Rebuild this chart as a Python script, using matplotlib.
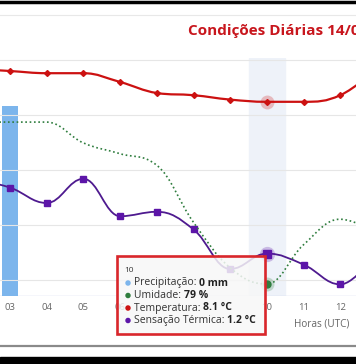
"""Condições Diárias — recriação do gráfico (Highcharts-like) em matplotlib"""

import matplotlib
matplotlib.use("Agg")
import matplotlib.pyplot as plt
import matplotlib.patches as mpatches
from matplotlib.path import Path

# dados (hora UTC)
horas = [2, 3, 4, 5, 6, 7, 8, 9, 10, 11, 12, 13]
rotulos = ["02", "03", "04", "05", "06", "07", "08", "09", "10", "11", "12", "13"]
precipitacao = [0.0, 0.6, 0.0, 0.0, 0.0, 0.0, 0.0, 0.0, 0.0, 0.0, 0.0, 0.0]
umidade = [100, 100, 100, 97.3, 95.9, 94.4, 87.0, 81.1, 79, 84.1, 87.4, 85.5]
temperatura = [9.6, 9.5, 9.4, 9.4, 9.0, 8.5, 8.4, 8.2, 8.1, 8.1, 8.4, 9.6]
sensacao = [4.6, 4.2, 3.5, 4.6, 2.9, 3.1, 2.3, 0.5, 1.2, 0.7, -0.2, 1.3]
hora_sel = 10
ocultos = ["07", "08", "09"]  # rótulos cobertos pelo tooltip no print

W, H = 356, 364
C_TEMP = "#cc1111"
C_SENS = "#4e1a8f"
C_SENS_MK = "#5c15a8"
C_UMID = "#2f7d3e"
C_PREC = "#7cb5ec"
C_GRID = "#e6e6e6"
C_TXT = "#666666"


def fx(px):
    return px / W


def fy(py):
    return 1 - py / H


def spline_path(xs, ys, smoothing=1.5):
    """Curva spline estilo Highcharts (controles bezier)."""
    denom = smoothing + 1
    n = len(xs)
    right = [None] * n
    verts = [(xs[0], ys[0])]
    codes = [Path.MOVETO]
    for i in range(1, n):
        x, y = xs[i], ys[i]
        lx, ly = xs[i - 1], ys[i - 1]
        lcx, lcy = x, y
        if i < n - 1:
            nx, ny = xs[i + 1], ys[i + 1]
            lcx = (smoothing * x + lx) / denom
            lcy = (smoothing * y + ly) / denom
            rcx = (smoothing * x + nx) / denom
            rcy = (smoothing * y + ny) / denom
            corr = 0
            if rcx != lcx:
                corr = (rcy - lcy) * (rcx - x) / (rcx - lcx) + y - rcy
            lcy += corr
            rcy += corr
            if lcy > ly and lcy > y:
                lcy = max(ly, y); rcy = 2 * y - lcy
            elif lcy < ly and lcy < y:
                lcy = min(ly, y); rcy = 2 * y - lcy
            if rcy > ny and rcy > y:
                rcy = max(ny, y); lcy = 2 * y - rcy
            elif rcy < ny and rcy < y:
                rcy = min(ny, y); lcy = 2 * y - rcy
            right[i] = (rcx, rcy)
        prev = right[i - 1] if right[i - 1] else (lx, ly)
        verts += [prev, (lcx, lcy), (x, y)]
        codes += [Path.CURVE4] * 3
    return Path(verts, codes)


fig = plt.figure(figsize=(W / 100, H / 100), dpi=100)
fig.patch.set_facecolor("white")

# área do gráfico: y de 58 a 296 px, recortada nas laterais
rect = [0, fy(296), 1, (296 - 58) / H]
ax = fig.add_axes(rect)          # precipitação + grade
ax_t = ax.twinx()                 # temperaturas
ax_h = ax.twinx()                 # umidade

x0, x10 = 10, 36.7
xlim = (3 - x0 / x10, 3 + (W - x0) / x10)
for a in (ax, ax_t, ax_h):
    a.set_xlim(*xlim)
    a.patch.set_visible(False)
    for s in a.spines.values():
        s.set_visible(False)
    a.tick_params(left=False, right=False, bottom=False,
                  labelleft=False, labelright=False, labelbottom=False)
ax.patch.set_visible(True)

# eixos: temp y_px = 280 - 22*T ; umidade y_px = 284 - 7.71*(U-79)
ax_t.set_ylim(-(296 - 280) / 22, (280 - 58) / 22)
ax_h.set_ylim(79 - (296 - 284) / 7.71, 79 + (284 - 58) / 7.71)
ax.set_ylim(0, max(precipitacao) * (296 - 58) / (296 - 106))

# grade horizontal (eixo temperatura)
for t in [0, 2.5, 5, 7.5, 10]:
    ax_t.axhline(t, color=C_GRID, lw=0.8, zorder=0)
ax.axhline(0, color="#ccd6eb", lw=1.0, zorder=1)

# faixa da hora selecionada
ax.axvspan(hora_sel - 0.48, hora_sel + 0.48, color="#eef2f9", zorder=0)

# precipitação
ax.bar(horas, precipitacao, width=0.46, color=C_PREC, zorder=2)

# umidade (pontilhada)
ax_h.add_patch(mpatches.PathPatch(spline_path(horas, umidade), fill=False,
                                  edgecolor=C_UMID, lw=1.2,
                                  linestyle=(0, (1, 1.6)), zorder=3))

# temperatura
ax_t.add_patch(mpatches.PathPatch(spline_path(horas, temperatura), fill=False,
                                  edgecolor=C_TEMP, lw=1.6, zorder=4))
ax_t.plot(horas, temperatura, "D", color=C_TEMP, ms=3.0, zorder=5)

# sensação térmica
ax_t.add_patch(mpatches.PathPatch(spline_path(horas, sensacao), fill=False,
                                  edgecolor=C_SENS, lw=1.3, zorder=4))
ax_t.plot(horas, sensacao, "s", color=C_SENS_MK, ms=4, zorder=5)

# destaque do ponto selecionado
i = horas.index(hora_sel)
ax_t.plot(hora_sel, temperatura[i], "o", color=C_TEMP, ms=10, alpha=0.25, mec="none", zorder=4)
ax_t.plot(hora_sel, sensacao[i], "o", color=C_SENS_MK, ms=11, alpha=0.25, mec="none", zorder=4)
ax_t.plot(hora_sel, sensacao[i], "s", color=C_SENS_MK, ms=6, zorder=6)
ax_h.plot(hora_sel, umidade[i], "o", color=C_UMID, ms=10, alpha=0.25, mec="none", zorder=4)
ax_h.plot(hora_sel, umidade[i], "o", color=C_UMID, ms=5, zorder=6)

# rótulos do eixo x
for h, r in zip(horas, rotulos):
    if 3 <= h <= 12 and r not in ocultos:
        xp = x0 + x10 * (h - 3)
        fig.text(fx(xp), fy(308), r, ha="center", va="center",
                 fontsize=6.8, color=C_TXT, family="Open Sans")
fig.text(fx(322), fy(324), "Horas (UTC)", ha="center", va="center",
         fontsize=7.2, color=C_TXT, family="Open Sans")

# título (cortado à direita como no print)
fig.text(fx(188), fy(31), "Condições Diárias 14/06", ha="left", va="center",
         fontsize=11, color="#c8161d", weight="bold", family="Open Sans")

# molduras do print
fig.add_artist(plt.Line2D([0, 1], [fy(1.5), fy(1.5)], color="black", lw=2.5))
fig.add_artist(plt.Line2D([0, 1], [fy(15), fy(15)], color="#e8e8e8", lw=0.8))
fig.add_artist(plt.Line2D([0, 1], [fy(346), fy(346)], color="#8a8a8a", lw=1.6))
fig.add_artist(mpatches.Rectangle((0, 0), 1, fy(357), transform=fig.transFigure,
                                  color="black"))

# tooltip
fig.add_artist(mpatches.Rectangle((fx(117), fy(334)), fx(265) - fx(117), fy(256) - fy(334),
                                  transform=fig.transFigure, facecolor=(0.97, 0.97, 0.97, 0.85),
                                  edgecolor="#d9262b", lw=1.9, zorder=10))
fig.text(fx(124), fy(271), str(hora_sel), ha="left", va="center",
         fontsize=6.0, color="#333333", family="Open Sans", zorder=11)
linhas = [
    (C_PREC, "Precipitação: ", f"{precipitacao[i]:g} mm", 283),
    (C_UMID, "Umidade: ", f"{umidade[i]:g} %", 295.5),
    (C_TEMP, "Temperatura: ", f"{temperatura[i]:g} °C", 308),
    (C_SENS_MK, "Sensação Térmica: ", f"{sensacao[i]:g} °C", 320.5),
]
renderer = fig.canvas.get_renderer()
for cor, rot, val, yp in linhas:
    fig.add_artist(mpatches.Circle((fx(128), fy(yp)), 2.0 / W,
                                   transform=fig.transFigure, color=cor, zorder=11))
    t = fig.text(fx(134), fy(yp), rot, ha="left", va="center", fontsize=7.5,
                 color="#333333", family="Open Sans", zorder=11)
    x1 = t.get_window_extent(renderer).x1
    fig.text(x1 / W, fy(yp), val, ha="left", va="center", fontsize=7.5,
             color="#222222", weight="bold", family="Open Sans", zorder=11)

fig.savefig("out.png", dpi=100)
plt.close(fig)
